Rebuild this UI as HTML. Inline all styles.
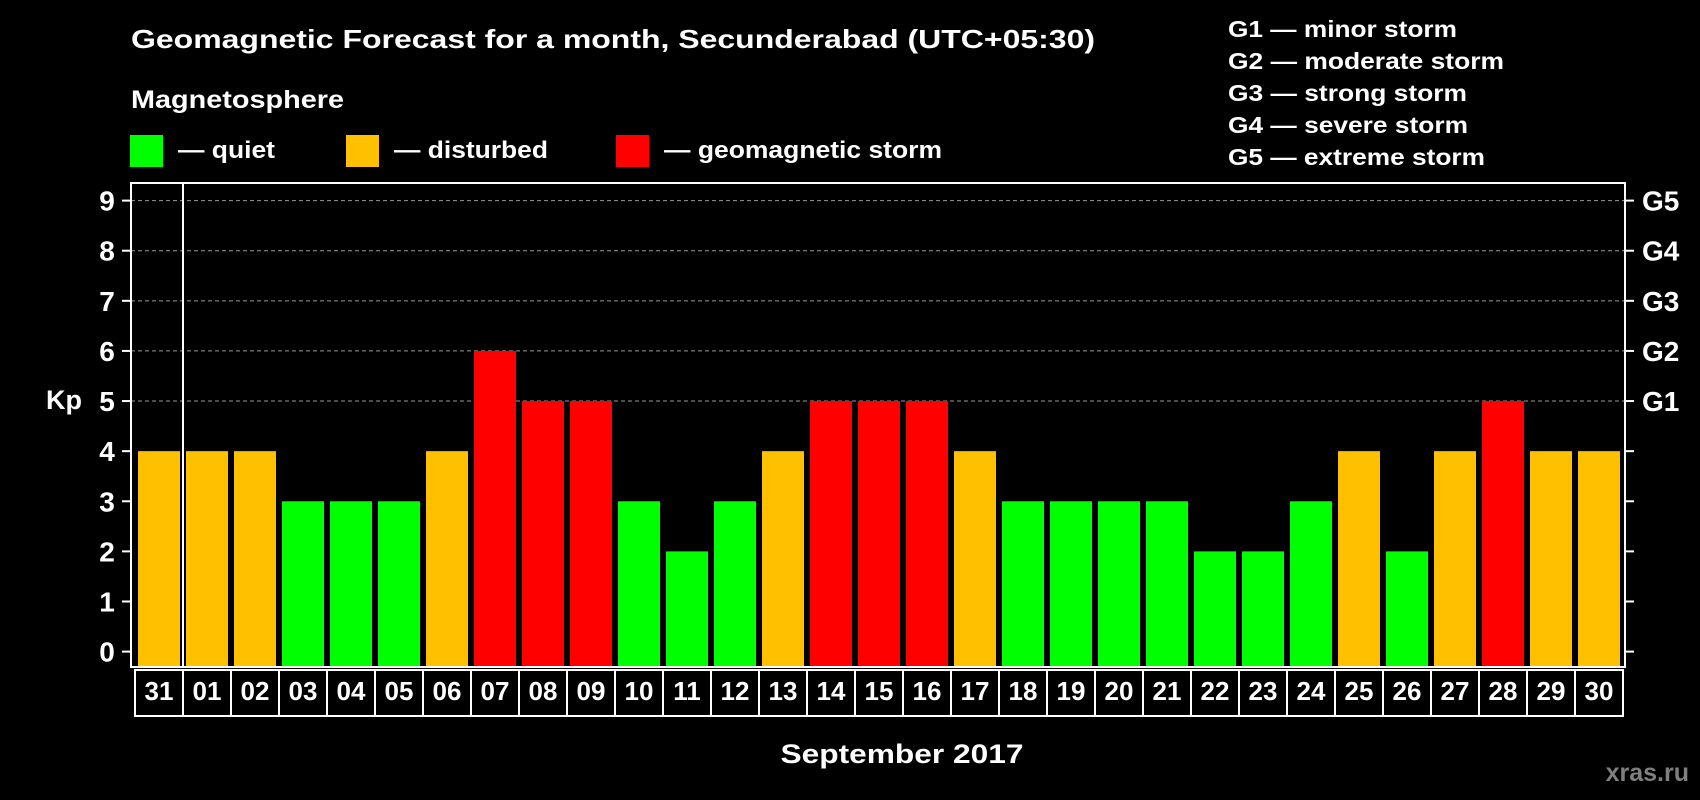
<!DOCTYPE html>
<html><head><meta charset="utf-8"><style>
html,body{margin:0;padding:0;background:#000;}
svg{display:block;font-family:"Liberation Sans",Arial,sans-serif;font-weight:bold;}
</style></head><body>
<svg id="chart" width="1700" height="800" viewBox="0 0 1700 800" xmlns="http://www.w3.org/2000/svg">
<rect width="1700" height="800" fill="#000"/>
<text x="131" y="48" font-size="26" fill="#fff" textLength="964" lengthAdjust="spacingAndGlyphs">Geomagnetic Forecast for a month, Secunderabad (UTC+05:30)</text>
<text x="131" y="108" font-size="25" fill="#fff" textLength="213" lengthAdjust="spacingAndGlyphs">Magnetosphere</text>
<g>
<rect x="130" y="135" width="33" height="32" fill="#00ff00"/>
<text x="178" y="158" font-size="24" fill="#fff" textLength="97" lengthAdjust="spacingAndGlyphs">— quiet</text></g>
<g>
<rect x="346" y="135" width="33" height="32" fill="#ffc000"/>
<text x="394" y="158" font-size="24" fill="#fff" textLength="154" lengthAdjust="spacingAndGlyphs">— disturbed</text></g>
<g>
<rect x="616" y="135" width="33" height="32" fill="#ff0000"/>
<text x="664" y="158" font-size="24" fill="#fff" textLength="278" lengthAdjust="spacingAndGlyphs">— geomagnetic storm</text></g>
<g font-size="23" fill="#fff">
<text x="1228" y="37" textLength="229" lengthAdjust="spacingAndGlyphs">G1 — minor storm</text>
<text x="1228" y="69" textLength="276" lengthAdjust="spacingAndGlyphs">G2 — moderate storm</text>
<text x="1228" y="101" textLength="239" lengthAdjust="spacingAndGlyphs">G3 — strong storm</text>
<text x="1228" y="133" textLength="240" lengthAdjust="spacingAndGlyphs">G4 — severe storm</text>
<text x="1228" y="165" textLength="257" lengthAdjust="spacingAndGlyphs">G5 — extreme storm</text>
</g>
<text x="64" y="409" font-size="27" fill="#fff" text-anchor="middle">Kp</text>
<g id="grid"></g><g id="bars"></g><g id="axes"></g><g id="dates"></g>
<text x="902" y="763" font-size="27" fill="#fff" text-anchor="middle" textLength="243" lengthAdjust="spacingAndGlyphs">September 2017</text>
<text x="1689" y="781" font-size="25" fill="#7f7f7f" text-anchor="end">xras.ru</text>
</svg>
<script>
const days = ["31","01","02","03","04","05","06","07","08","09","10","11","12","13","14","15","16","17","18","19","20","21","22","23","24","25","26","27","28","29","30"];
const kpValues = [4,4,4,3,3,3,4,6,5,5,3,2,3,4,5,5,5,4,3,3,3,3,2,2,3,4,2,4,5,4,4];
const yTicks = [0,1,2,3,4,5,6,7,8,9];
const gLabels = ["G1","G2","G3","G4","G5"];
const gLevels = [5,6,7,8,9];

const NS="http://www.w3.org/2000/svg";
const L=131,R=1625,T=183,B=667;
const y0=651.6,unit=(651.6-200.6)/9;
const yScale=v=>y0-v*unit;
const slot0=135,pitch=48;
const xScale=i=>slot0+i*pitch;
function mk(tag,attrs,parent){const e=document.createElementNS(NS,tag);for(const k in attrs)e.setAttribute(k,attrs[k]);parent.appendChild(e);return e;}
const grid=document.getElementById('grid'),bars=document.getElementById('bars'),axes=document.getElementById('axes'),dates=document.getElementById('dates');
function color(v){return v>=5?"#ff0000":(v>=4?"#ffc000":"#00ff00");}

gLevels.forEach(v=>{
 const l=mk('line',{x1:L,x2:R,y1:yScale(v),y2:yScale(v),stroke:'#9a9a9a','stroke-width':1,'stroke-dasharray':'4,3'},grid);
 
 
});
kpValues.forEach((v,i)=>{
 const r=mk('rect',{x:xScale(i)+3,y:yScale(v),width:42,height:B-yScale(v),fill:color(v)},bars);
 
 
});
const frame=mk('rect',{x:L,y:T,width:R-L,height:B-T,fill:'none',stroke:'#fff','stroke-width':2},axes);


const sep=mk('line',{x1:xScale(1),x2:xScale(1),y1:T,y2:B,stroke:'#fff','stroke-width':2},axes);


yTicks.forEach(v=>{
 mk('line',{x1:L-9,x2:L,y1:yScale(v),y2:yScale(v),stroke:'#fff','stroke-width':2},axes);
 mk('line',{x1:R,x2:R+9,y1:yScale(v),y2:yScale(v),stroke:'#fff','stroke-width':2},axes);
 const t=mk('text',{x:107,y:yScale(v)+10,'font-size':28,fill:'#fff','text-anchor':'middle'},axes);
 t.textContent=v;
 
 
});
gLabels.forEach((g,i)=>{
 const t=mk('text',{x:1642,y:yScale(gLevels[i])+10,'font-size':28,fill:'#fff'},axes);
 t.textContent=g;
 
 
});
days.forEach((d,i)=>{
 const r=mk('rect',{x:xScale(i),y:670,width:pitch,height:46,fill:'none',stroke:'#fff','stroke-width':2},dates);
 
 
 const t=mk('text',{x:xScale(i)+pitch/2,y:700,'font-size':26,fill:'#fff','text-anchor':'middle'},dates);
 t.textContent=d;
 
 
});
</script>
</body></html>
